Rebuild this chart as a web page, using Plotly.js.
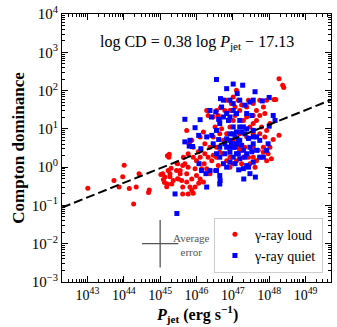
<!DOCTYPE html>
<html>
<head>
<meta charset="utf-8">
<script src="https://cdn.plot.ly/plotly-3.0.1.min.js"></script>
<style>
  html, body { margin: 0; padding: 0; background: #fff; }
  #plot { width: 337px; height: 327px; }
</style>
</head>
<body>
<div id="plot"></div>
<script>
// log10 values: jet power (erg/s) and Compton dominance

const loudLogP = [
	43.01, 43.73, 43.87, 43.97, 44.01, 44.15, 44.27, 44.34, 44.42, 44.68, 44.70, 45.02,
	45.09, 45.12, 45.20, 45.25, 45.24, 45.18, 45.30, 45.27, 45.46, 45.48, 45.55,
	45.27, 45.55, 45.62, 45.68, 45.48, 45.13, 45.32, 45.50, 45.59, 45.73, 45.82, 45.87,
	45.91, 45.62, 45.77, 45.96, 46.00, 46.10, 46.14, 46.21, 46.28, 46.32, 46.23, 46.10,
	46.00, 46.42, 46.46, 46.55, 46.60, 46.51, 46.37, 46.19, 46.06, 45.73, 45.80, 45.91,
	45.87, 46.10, 46.19, 46.37, 46.55, 46.28, 46.32, 46.46, 46.64, 46.55, 46.66, 46.83,
	47.01, 47.10, 47.15, 47.06,
	47.38, 47.56, 47.65, 47.74, 47.84, 47.93, 47.88, 47.65, 47.79, 47.93, 48.02, 47.88,
	47.84, 48.02, 47.97, 48.06, 47.93, 47.74, 47.65, 47.56, 47.47, 47.19, 47.29, 47.10,
	47.01, 46.92, 46.83, 46.74, 46.64, 47.38, 47.56, 47.29, 47.01, 46.92, 46.83, 46.74,
	46.64, 48.11, 48.27, 48.27, 48.37, 48.40, 48.13, 48.18,
	47.19, 47.47, 47.38, 47.19, 46.92, 47.56, 47.70, 47.33, 47.01, 47.15, 47.43, 47.61,
	46.92, 47.24, 47.56, 47.74, 47.06, 46.78, 46.96, 47.74, 47.56, 47.84, 47.43, 47.24,
	46.60, 46.51, 46.69, 46.46, 46.23, 46.05, 45.91, 45.77, 45.64, 45.45, 45.22, 45.36,
	45.73, 45.87, 45.77, 45.62, 45.96, 45.07, 45.20,
];
const loudLogCD = [
	-0.55, -0.35, -0.52, -0.25, 0.05, -0.56, -0.96, -0.52, -0.17, -0.66, -0.60, -0.19,
	-0.32, -0.40, 0.30, 0.34, 0.26, -0.51, -0.03, -0.25, 0.10, -0.30, -0.09,
	-0.17, -0.17, 0.04, 0.09, 0.09, -0.26, -0.44, -0.31, -0.35, -0.39, -0.52, -0.61,
	-0.68, -0.52, 0.00, -0.04, -0.22, -0.31, -0.04, 0.09, -0.04, 0.26, 0.35, 0.26,
	0.17, 0.17, 0.31, 0.26, 0.04, -0.09, -0.17, -0.39, -0.42, 0.96, 0.61, 0.52,
	0.70, 0.79, 0.92, 0.52, 0.52, 1.48, 1.35, 1.31, 1.22, 1.48, 1.55, 1.75,
	1.83, 2.01, 1.75, 1.57,
	1.57, 1.66, 1.48, 1.75, 1.57, 1.75, 1.40, 1.22, 1.05, 0.96, 1.14, 0.79,
	0.52, 0.52, 0.35, 0.22, 0.17, 0.26, 0.17, 0.26, 0.09, 0.44, 0.26, 0.17,
	0.09, 0.26, 0.17, 0.35, 0.39, 0.79, 0.87, 1.22, 1.22, 1.05, 0.87, 0.70,
	0.87, 0.72, 0.83, 2.31, 2.14, 2.08, 1.77, 1.77,
	0.87, 1.05, 1.31, 1.48, 1.48, 0.52, 0.44, 0.52, 0.70, 0.52, 0.26, 0.00,
	0.00, 0.09, 1.35, 1.35, 1.35, 1.48, 1.66, 0.87, 1.14, 0.39, 1.75, 1.62,
	1.35, 1.05, 1.00, 0.79, 0.61, 0.40, 0.26, 0.35, 0.26, -0.09, -0.09, -0.35,
	-0.17, -0.31, -0.70, -0.70, -0.52, -0.17, -0.44,
];

const quietLogP = [
	46.55, 46.83, 47.01, 47.27, 47.12, 47.61, 46.66, 46.74, 46.92, 47.01, 47.19, 47.33,
	47.47, 47.56, 47.81, 48.00, 48.11, 48.16, 48.00, 45.68, 45.96, 46.10, 46.37, 46.41,
	46.61, 46.53, 46.64, 46.83, 46.92, 47.01, 47.10, 47.19, 47.29, 45.89, 46.06, 46.12,
	46.42, 46.55, 46.61, 46.64, 46.78, 46.92, 47.06, 47.19, 47.01, 47.10, 47.29, 47.38,
	47.47, 47.56, 47.65, 47.74, 45.82, 45.68, 45.80, 46.07, 46.14, 46.26, 46.28, 46.37,
	46.55, 46.64, 46.65, 46.64, 46.74, 46.83, 46.92, 47.01, 47.16, 47.30, 47.38, 47.47,
	47.62, 47.56, 47.74, 47.84, 47.93, 47.97, 45.41, 45.46, 46.78, 46.92, 47.06,
	47.01, 47.10, 47.19, 47.33, 47.15, 47.24, 47.43, 47.52, 47.33, 47.19, 47.06, 47.29,
	47.43, 46.92, 46.83, 46.96, 47.10, 47.38, 47.56, 46.88, 46.74, 47.38, 47.52, 46.69,
	47.01, 47.24, 47.15, 46.92, 47.56, 47.65, 46.83, 46.46, 46.28, 46.64, 46.55,
];
const quietLogCD = [
	2.29, 2.05, 2.17, 2.14, 1.92, 1.97, 1.79, 1.75, 1.75, 1.66, 1.75, 1.62,
	1.70, 1.75, 1.73, 1.82, 1.35, 1.22, 1.07, 1.25, 1.03, 1.24, 1.48, 1.31,
	1.25, 1.44, 1.14, 1.40, 1.31, 1.48, 1.40, 1.22, 1.05, 0.54, 0.83, 0.48,
	0.83, 0.96, 0.72, 0.52, 0.61, 0.70, 0.79, 0.70, 0.52, 0.35, 0.44, 0.35,
	0.52, 0.61, 0.79, 0.70, 0.70, 0.66, 0.55, 0.09, -0.09, -0.17, -0.52, -0.09,
	-0.09, -0.22, -0.35, -0.44, 0.09, 0.00, 0.13, 0.26, -0.07, -0.31, 0.04, -0.17,
	-0.26, 0.13, 0.26, 0.26, 0.44, 0.61, -0.70, -1.21, 0.35, 0.39, 0.52,
	1.05, 0.92, 1.05, 0.87, 0.70, 0.57, 0.75, 0.40, 0.26, 0.22, 0.09, -0.04,
	0.00, 0.87, 0.74, 0.61, 0.61, 1.00, 0.96, 1.22, 1.31, 1.40, 1.35, 1.57,
	0.87, 0.92, 0.35, 0.52, 0.79, 0.44, 0.52, 0.61, 0.79, 0.26, 0.35,
];

// fit: log CD = 0.38 log Pjet - 17.13
const fitSlope = 0.38;
const fitIntercept = -17.13;

// average error cross (dex) placed at 1e45, 1e-2
const avgErrCenter = [45.0, -2.0];
const avgErrSize = [0.5, 0.62];

const xRange = [42.3, 49.7];
const yRange = [-3, 4];

const xTickExp = [43, 44, 45, 46, 47, 48, 49];
const yTickExp = [-3, -2, -1, 0, 1, 2, 3, 4];

const pow10 = (v) => Math.pow(10, v);
const powLabel = (e) => '10<sup>' + String(e).replace('-', '−') + '</sup>';

function minorVals(lo, hi) {
	var out = [];
	for (var e = Math.floor(lo); e <= Math.ceil(hi); e++) {
		for (var m = 2; m <= 9; m++) {
			var v = e + Math.log10(m);
			if (v > lo && v < hi) out.push(pow10(v));
		}
	}
	return out;
}

var serif = 'Liberation Serif';

var loud = {
	x: loudLogP.map(pow10),
	y: loudLogCD.map(pow10),
	mode: 'markers',
	type: 'scatter',
	name: 'γ-ray loud',
	marker: { color: '#ff0000', size: 5, symbol: 'circle' },
};

var quiet = {
	x: quietLogP.map(pow10),
	y: quietLogCD.map(pow10),
	mode: 'markers',
	type: 'scatter',
	name: 'γ-ray quiet',
	marker: { color: '#0000ff', size: 5, symbol: 'square' },
};

var fit = {
	x: xRange.map(pow10),
	y: xRange.map((v) => pow10(fitSlope * v + fitIntercept)),
	mode: 'lines',
	type: 'scatter',
	showlegend: false,
	hoverinfo: 'skip',
	line: { color: '#000', width: 2, dash: '9px,4px' },
};

var cx = avgErrCenter[0], cy = avgErrCenter[1];
var errCross = {
	x: [pow10(cx)],
	y: [pow10(cy)],
	mode: 'markers',
	type: 'scatter',
	showlegend: false,
	hoverinfo: 'skip',
	marker: { size: 0.1, color: '#555' },
	error_x: {
		type: 'data',
		symmetric: false,
		array: [pow10(cx + avgErrSize[0]) - pow10(cx)],
		arrayminus: [pow10(cx) - pow10(cx - avgErrSize[0])],
		color: '#555',
		thickness: 1.3,
		width: 0,
	},
	error_y: {
		type: 'data',
		symmetric: false,
		array: [pow10(cy + avgErrSize[1]) - pow10(cy)],
		arrayminus: [pow10(cy) - pow10(cy - avgErrSize[1])],
		color: '#555',
		thickness: 1.3,
		width: 0,
	},
};

var axisCommon = {
	type: 'log',
	showline: true,
	mirror: 'ticks',
	linecolor: '#000',
	linewidth: 1,
	showgrid: false,
	zeroline: false,
	ticks: 'inside',
	ticklen: 6,
	tickwidth: 1,
	tickcolor: '#000',
	tickmode: 'array',
	tickfont: { family: serif, size: 15, color: '#000' },
};

var layout = {
	width: 337,
	height: 327,
	margin: { l: 62, r: 6, t: 14, b: 45 },
	paper_bgcolor: '#fff',
	plot_bgcolor: '#fff',
	font: { family: serif, color: '#000' },
	xaxis: Object.assign({}, axisCommon, {
		range: xRange,
		tickvals: xTickExp.map(pow10),
		ticktext: xTickExp.map(powLabel),
		tickfont: { family: serif, size: 14, color: '#000' },
		minor: { tickmode: 'array', tickvals: minorVals(xRange[0], xRange[1]), ticks: 'inside', ticklen: 3, tickcolor: '#000', showgrid: false },
	}),
	yaxis: Object.assign({}, axisCommon, {
		range: yRange,
		tickvals: yTickExp.map(pow10),
		ticktext: yTickExp.map(powLabel),
		minor: { tickmode: 'array', tickvals: minorVals(yRange[0], yRange[1]), ticks: 'inside', ticklen: 3, tickcolor: '#000', showgrid: false },
		title: {
			text: '<b>Compton dominance</b>',
			font: { family: serif, size: 17 },
			standoff: 2,
		},
	}),
	legend: {
		x: 0.97,
		y: 0.035,
		xanchor: 'right',
		yanchor: 'bottom',
		bgcolor: '#fff',
		bordercolor: '#ccc',
		borderwidth: 1,
		font: { family: serif, size: 14 },
		itemwidth: 30,
		tracegroupgap: 0,
	},
	annotations: [
		{
			xref: 'paper',
			yref: 'paper',
			x: 0.5,
			y: 0.935,
			showarrow: false,
			text: 'log CD = 0.38 log <i>P</i><sub>jet</sub> − 17.13',
			font: { family: serif, size: 16 },
		},
		{
			x: 45.85,
			y: -2.03,
			showarrow: false,
			text: 'Average<br>error',
			align: 'center',
			font: { family: serif, size: 11, color: '#555' },
		},
		{
			// x axis title, placed by hand under the tick labels
			xref: 'paper',
			yref: 'paper',
			x: 0.5,
			y: 0,
			yanchor: 'top',
			yshift: -19,
			showarrow: false,
			text: '<b><i>P</i><sub>jet</sub> (erg s<sup>−1</sup>)</b>',
			font: { family: serif, size: 16 },
		},
	],
	showlegend: true,
};

Plotly.newPlot('plot', [loud, quiet, fit, errCross], layout, { displayModeBar: false, staticPlot: true });
</script>
</body>
</html>
